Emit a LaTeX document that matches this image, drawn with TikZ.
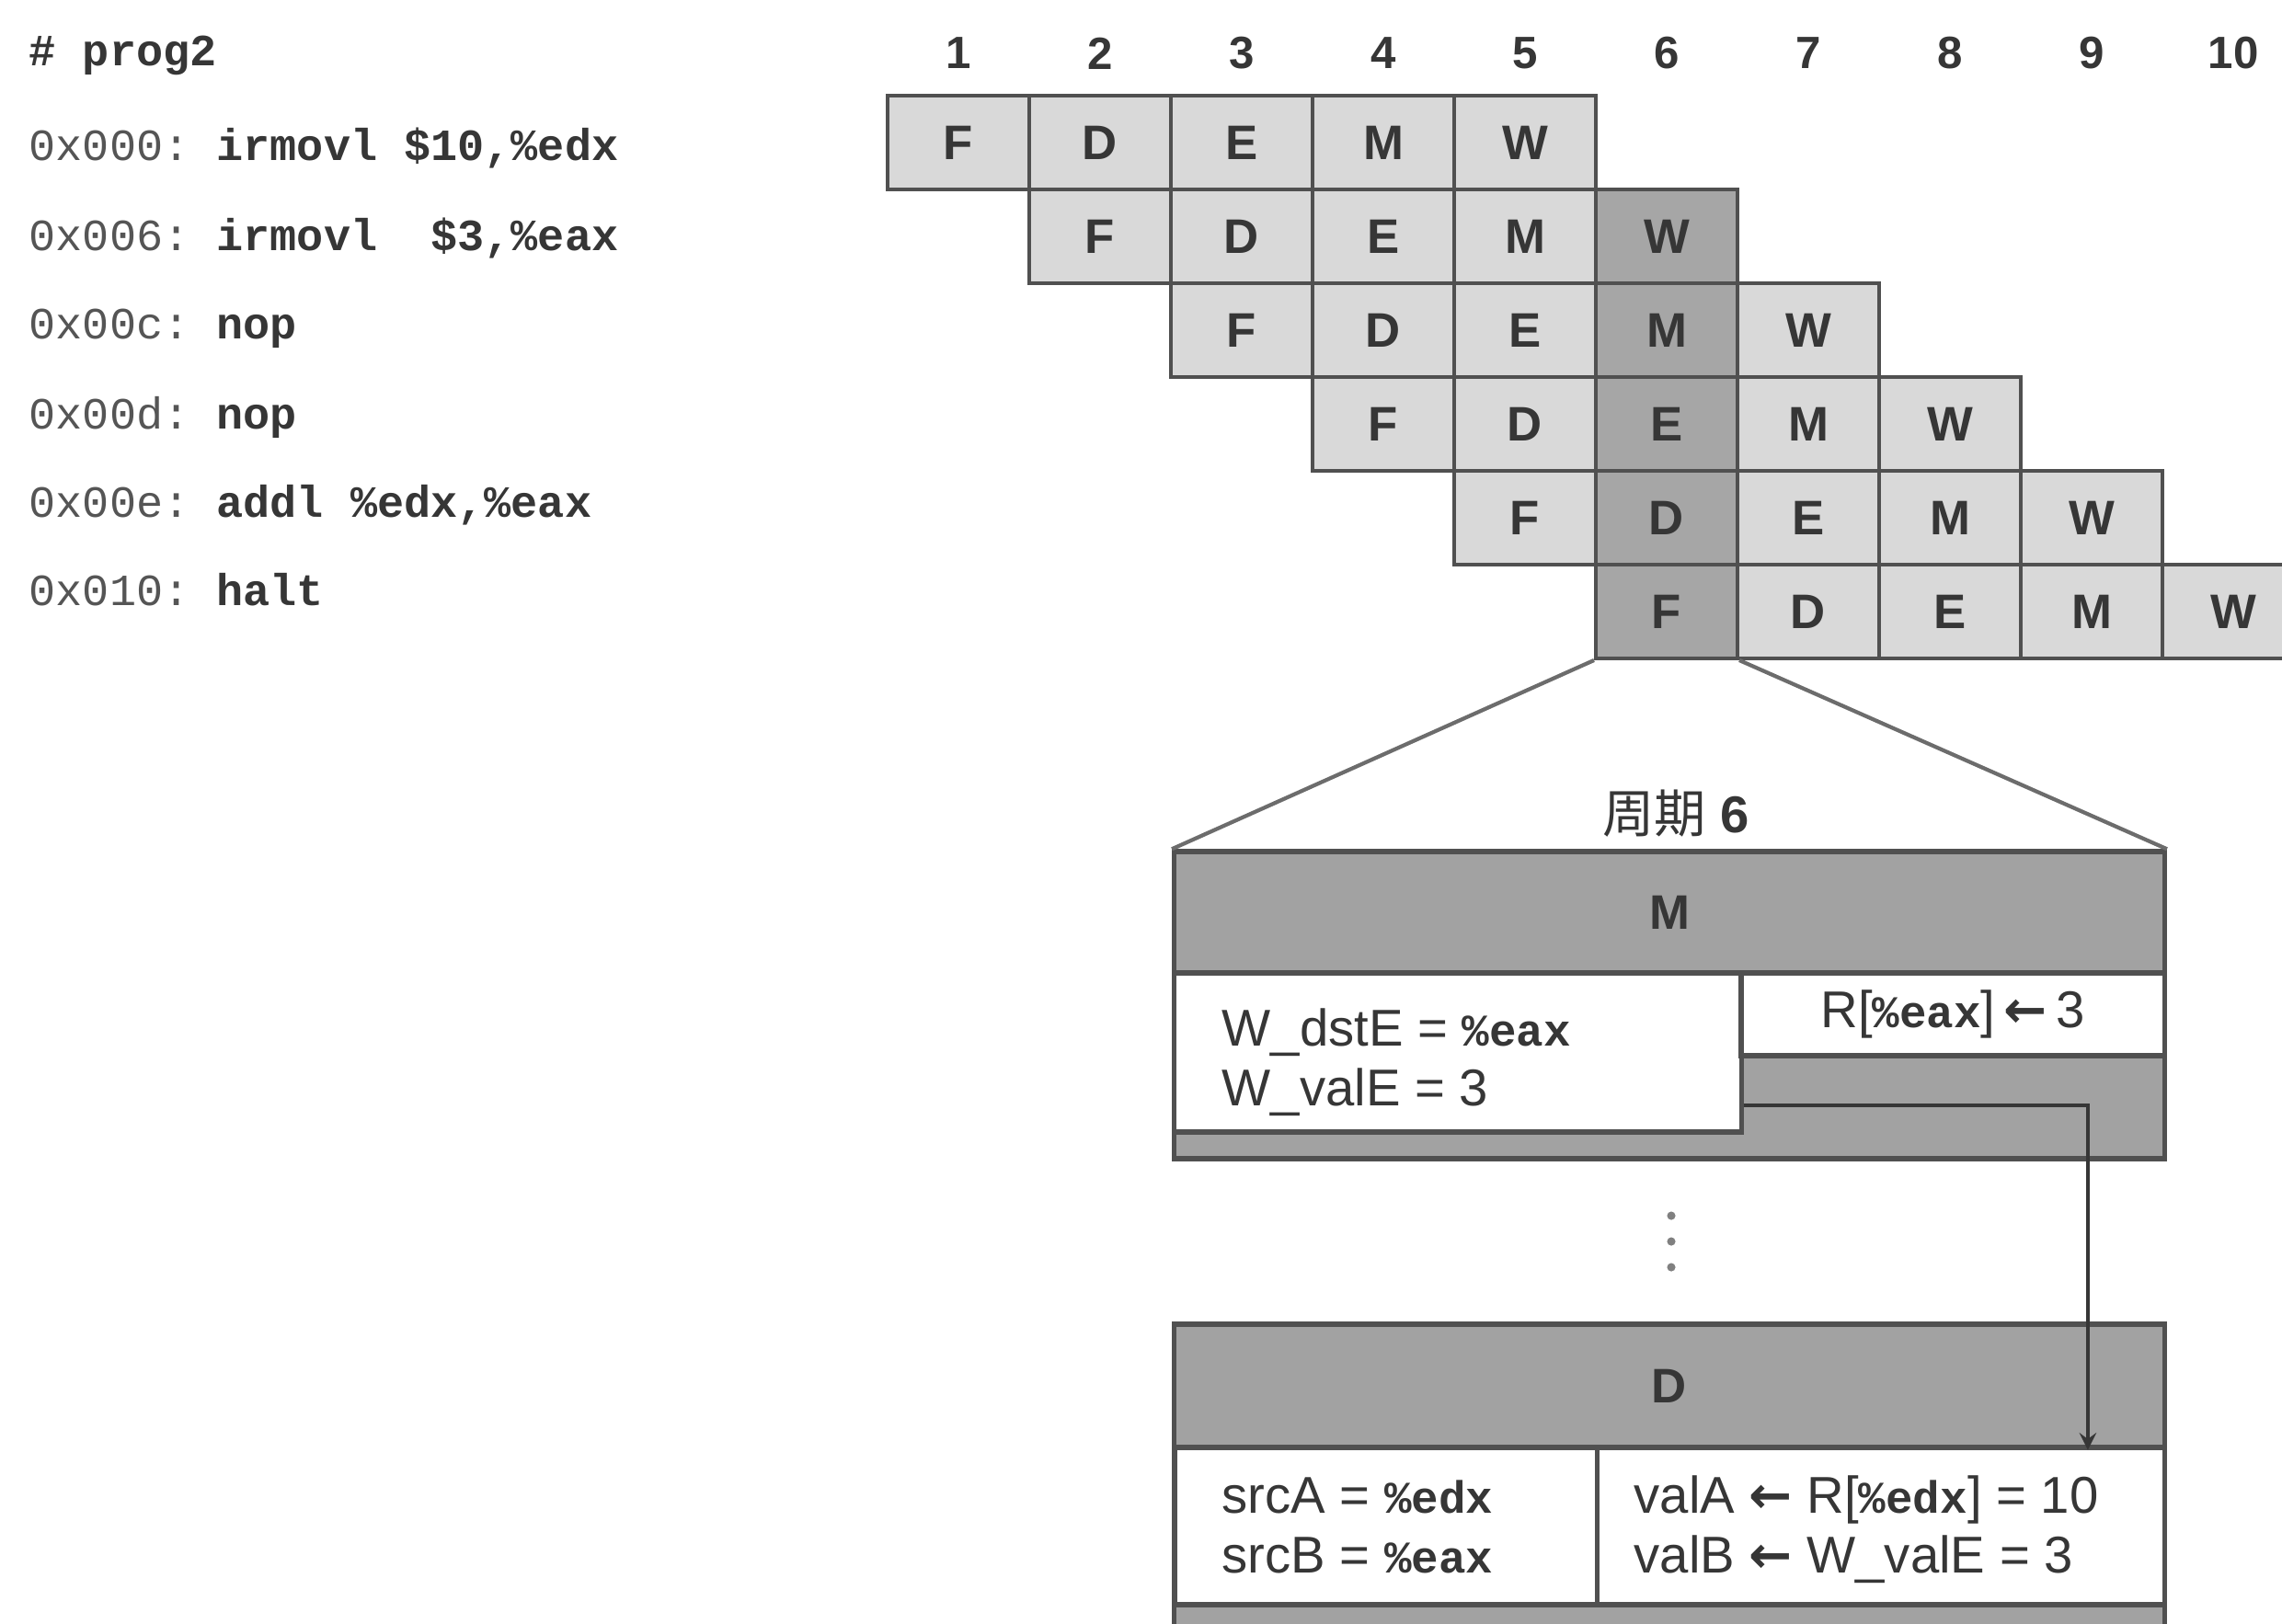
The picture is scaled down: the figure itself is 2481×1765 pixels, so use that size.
\documentclass[tikz,border=0pt]{standalone}
\usepackage{fontspec}
\setmainfont{Liberation Sans}
\newfontfamily\codefont{Liberation Mono}
\newfontfamily\cjk{Noto Sans CJK SC}
\newfontfamily\arrowfont{DejaVu Sans}
\usetikzlibrary{arrows, positioning, calc}

\definecolor{cellgray}{HTML}{D9D9D9}
\definecolor{hotgray}{HTML}{A6A6A6}
\definecolor{boxgray}{HTML}{A2A2A2}
\definecolor{linegray}{HTML}{505050}
\definecolor{inkgray}{HTML}{363636}
\definecolor{addrgray}{HTML}{555555}

\newcommand{\progaddr}[1]{{\color{addrgray}#1}}
\newcommand{\progop}[1]{{\bfseries\color{inkgray}#1}}
\newcommand{\regx}[1]{{\codefont\bfseries\fontsize{14}{16}\selectfont\%#1}}
\newcommand{\getsarrow}{{\arrowfont\bfseries ←}}

\begin{document}
\begin{tikzpicture}[
			x=0.01cm, y=-0.01cm,
			cell/.style={rectangle, draw=linegray, line width=1.1pt, fill=cellgray, minimum width=1.54cm, minimum height=1.02cm, inner sep=0pt, font=\fontsize{15}{18}\selectfont\bfseries, text=inkgray},
			cyclenum/.style={inner sep=0pt, font=\fontsize{14}{16}\selectfont\bfseries, text=inkgray},
			code/.style={anchor=base west, inner sep=0pt, font=\codefont\frenchspacing\fontsize{13.8}{16}\selectfont},
			stagebox/.style={rectangle, draw=linegray, line width=1.5pt, fill=boxgray, minimum width=10.76cm, inner sep=0pt, font=\fontsize{15}{18}\selectfont\bfseries, text=inkgray},
			valbox/.style={rectangle, draw=linegray, line width=1.5pt, fill=white, inner sep=0pt, font=\fontsize{16}{19}\selectfont, text=inkgray},
			boxtext/.style={anchor=base west, inner sep=0pt, font=\fontsize{16}{19}\selectfont, text=inkgray},
			zoomline/.style={draw=gray!85!black, line width=1.2pt},
			arrow/.style={->, >=stealth, line width=1.3pt, draw=inkgray}
			]
			\clip (0,0) rectangle (2481,1765);
			
			% Program listing
			\node[code, font=\codefont\bfseries\frenchspacing\fontsize{13.8}{16}\selectfont, text=inkgray] (title) at (31,71) {\# prog2};
			\node[code] (i1) at (31,174) {\progaddr{0x000:} \progop{irmovl \$10,\%edx}};
			\node[code] (i2) at (31,272) {\progaddr{0x006:} \progop{irmovl\ \ \$3,\%eax}};
			\node[code] (i3) at (31,368) {\progaddr{0x00c:} \progop{nop}};
			\node[code] (i4) at (31,466) {\progaddr{0x00d:} \progop{nop}};
			\node[code] (i5) at (31,562) {\progaddr{0x00e:} \progop{addl \%edx,\%eax}};
			\node[code] (i6) at (31,658) {\progaddr{0x010:} \progop{halt}};
			
			% Cycle numbers
			\foreach \c in {1,...,10}
				\node[cyclenum] (n\c) at ({888+154*\c}, 58) {\c};
			
			% Pipeline cells, cycle 6 darker
			\foreach \r in {1,...,6} {
				\foreach \s [count=\k from 0] in {F,D,E,M,W} {
					\pgfmathtruncatemacro{\c}{\r+\k}
					\ifnum\c=6 \def\cellfill{hotgray}\else\def\cellfill{cellgray}\fi
					\node[cell, fill=\cellfill] (c\r-\c) at ({888+154*\c}, {53+102*\r}) {\s};
				}
			}
			
			% Cycle 6 close-up
			\node[font=\fontsize{16}{19}\selectfont, text=inkgray] (cyc) at (1822,885) {{\cjk 周期} \textbf{6}};
			
			\node[stagebox, minimum height=3.34cm] (mbox) at (1815,1093) {};
			\node[stagebox, minimum height=1.32cm] (mhead) at (1815,992) {M};
			\node[valbox, minimum width=6.16cm, minimum height=1.73cm] (mleft) at (1585,1144.5) {};
			\node[valbox, minimum width=4.6cm, minimum height=0.9cm] (mright) at (2123,1103) {R[\regx{eax}]\,\getsarrow\,3};
			\node[boxtext] (mdst) at (1328,1137) {W\_dstE = \regx{eax}};
			\node[boxtext] (mval) at (1328,1202) {W\_valE = 3};
			
			% Vertical dots
			\foreach \y in {1322,1350,1378}
				\fill[gray] (1817,\y) circle (1.3pt);
			
			\node[stagebox, minimum height=3.6cm] (dbox) at (1815,1620) {};
			\node[stagebox, minimum height=1.34cm] (dhead) at (1815,1507) {D};
			\node[valbox, minimum width=4.6cm, minimum height=1.71cm] (dleft) at (1507,1659.5) {};
			\node[valbox, minimum width=6.16cm, minimum height=1.71cm] (dright) at (2045,1659.5) {};
			\node[boxtext] (dsrca) at (1328,1645) {srcA = \regx{edx}};
			\node[boxtext] (dsrcb) at (1328,1710) {srcB = \regx{eax}};
			\node[boxtext] (dvala) at (1776,1645) {valA \getsarrow{} R[\regx{edx}] = 10};
			\node[boxtext] (dvalb) at (1776,1710) {valB \getsarrow{} W\_valE = 3};
			
			% Zoom lines
			\draw[zoomline] (c6-6.south west) -- (mbox.north west);
			\draw[zoomline] (c6-6.south east) -- (mbox.north east);
			
			% Forwarding W_valE to valB
			\draw[arrow] (mleft.east |- mval.base) -| ([xshift=-0.86cm]dhead.south east);
			
		\end{tikzpicture}
\end{document}
